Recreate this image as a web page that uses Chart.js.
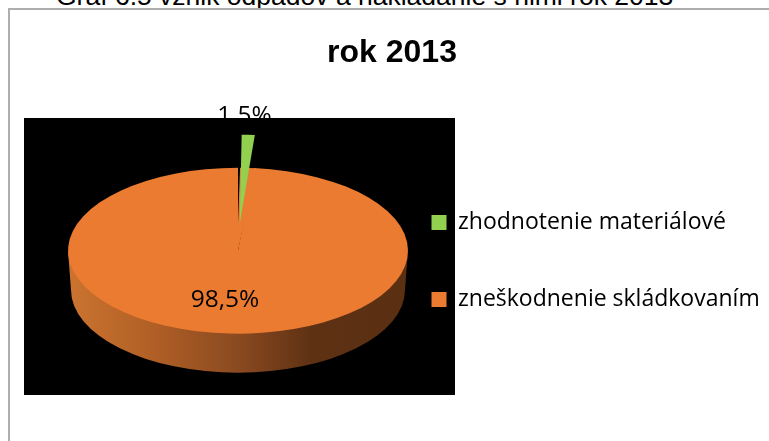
<!DOCTYPE html>
<html><head><meta charset="utf-8">
<style>
html,body{margin:0;padding:0;background:#fff;overflow:hidden;width:769px;height:441px}
#wrap{position:relative;width:769px;height:441px;overflow:hidden}
#cap{position:absolute;left:56px;top:-19px;font:26.5px "Liberation Sans",Arial,sans-serif;color:#000;white-space:nowrap}
#frame{position:absolute;left:8px;top:8px;width:770px;height:440px;border:solid #aeaeae;border-width:2px 0 0 2px;background:transparent}
canvas{position:absolute;left:0;top:0}
</style>
<script src="https://cdn.jsdelivr.net/npm/chart.js@4"></script>
</head><body>
<div id="wrap">
<div id="cap">Graf 6.5 vznik odpadov a nakladanie s nimi rok 2013</div>
<div id="frame"></div>
<canvas id="c" width="769" height="441"></canvas>
</div>
<script>
const categories = ["zhodnotenie materiálové", "zneškodnenie skládkovaním"];
const values = [1.5, 98.5];
const valueLabels = ["1,5%", "98,5%"];
const colors = ["#92d050", "#eb7b30"];
const titleText = "rok 2013";

const SQUASH = 0.488, DEPTH = 41, LEGEND_PAD = 54, LIFT = 41;
const UI = '"Open Sans","Noto Sans",sans-serif';

const pie3d = {
  id: 'pie3d',
  afterLayout(chart) {
    // place the title and legend blocks where the reference has them
    const t = chart.titleBlock; t.left = 24; t.right = 760; t.top = 34; t.bottom = 72;
    const l = chart.legend; const w = l.right - l.left, h = l.bottom - l.top;
    l.left = 431.5 - LEGEND_PAD; l.right = l.left + w;
    l.top = 261 - h / 2; l.bottom = 261 + h / 2;
    // keep the pie centred where the reference has it
    chart.chartArea.left = 24; chart.chartArea.right = 452;
  },
  beforeDraw(chart) {
    const c = chart.ctx;
    c.save(); c.fillStyle = '#000'; c.fillRect(24, 118, 431, 277); c.restore();
  },
  beforeDatasetsDraw(chart) {
    const c = chart.ctx, meta = chart.getDatasetMeta(0), arc = meta.data[1], small = meta.data[0];
    small.hidden = true;   // drawn last, on top of the big slice
    const x = arc.x, y = arc.y, r = arc.outerRadius, ry = r * SQUASH;
    const g = c.createLinearGradient(x - r, 0, x + r, 0);
    g.addColorStop(0, '#cc7430'); g.addColorStop(0.25, '#b05f26');
    g.addColorStop(0.5, '#8a4a20'); g.addColorStop(0.72, '#5e3113'); g.addColorStop(1, '#5a2f12');
    c.save();
    c.fillStyle = g;
    c.beginPath();
    c.moveTo(x - r, y);
    c.lineTo(x - r + 3, y + DEPTH - 2);
    c.ellipse(x, y + DEPTH - 2, r - 3, ry, 0, Math.PI, 0, true);
    c.lineTo(x + r, y);
    c.closePath();
    c.fill();
    c.restore();
    c.save();
    c.translate(x, y); c.scale(1, SQUASH); c.translate(-x, -y);
    // close the gap the lifted slice leaves in the top surface
    c.fillStyle = colors[1];
    c.beginPath();
    c.moveTo(x, y);
    c.lineTo(x, y - (LIFT + 14));
    c.arc(x, y, r, small.startAngle + 0.012, small.endAngle + 0.01);
    c.closePath();
    c.fill();
  },
  afterDatasetsDraw(chart) {
    const c = chart.ctx, meta = chart.getDatasetMeta(0);
    c.save();
    c.translate(1, -LIFT);
    meta.data[0].draw(c);
    c.restore();
    c.restore();
    const a1 = meta.data[1];
    c.save();
    c.fillStyle = '#000';
    c.font = '24.5px ' + UI;
    c.textAlign = 'center'; c.textBaseline = 'middle';
    c.fillText(valueLabels[0], a1.x + 6.5, 116);
    c.fillText(valueLabels[1], a1.x - 13, 300);
    c.restore();
  }
};

new Chart(document.getElementById('c'), {
  type: 'pie',
  data: { labels: categories, datasets: [{ data: values, backgroundColor: colors, borderWidth: 0, offset: [56, 0] }] },
  options: {
    responsive: false, animation: false,
    radius: 170,
    layout: { padding: { left: 24, right: 0, top: 81, bottom: 59 } },
    plugins: {
      tooltip: { enabled: false },
      title: { display: true, text: titleText, color: '#000', font: { family: '"Liberation Sans",Arial,sans-serif', size: 32, weight: 'bold' }, padding: { top: 0, bottom: 0 } },
      legend: { position: 'right', maxWidth: 500, labels: { color: '#000', boxWidth: 15, boxHeight: 15, padding: LEGEND_PAD, font: { family: UI, size: 23 } } }
    }
  },
  plugins: [pie3d]
});
</script>
</body></html>
